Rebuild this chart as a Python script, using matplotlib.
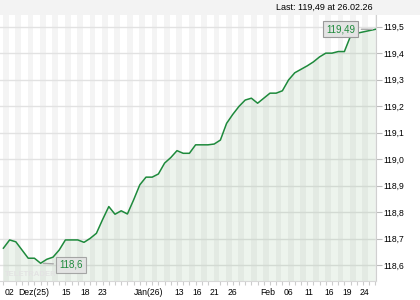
import numpy as np
import matplotlib
matplotlib.use("Agg")
from matplotlib import pyplot as plt
from matplotlib.patches import Rectangle

# closing values, one per trading day (01.12.25 .. 26.02.26)
values = [118.664, 118.695, 118.688, 118.657, 118.626, 118.626, 118.607, 118.622,
          118.630, 118.657, 118.695, 118.695, 118.695, 118.686, 118.701, 118.720,
          118.772, 118.821, 118.792, 118.805, 118.793, 118.846, 118.903, 118.932,
          118.932, 118.944, 118.985, 119.006, 119.032, 119.022, 119.022, 119.054,
          119.054, 119.054, 119.057, 119.072, 119.135, 119.169, 119.199, 119.223,
          119.230, 119.211, 119.230, 119.249, 119.249, 119.258, 119.299, 119.326,
          119.339, 119.352, 119.367, 119.386, 119.400, 119.400, 119.406, 119.406,
          119.465, 119.475, 119.480, 119.485, 119.490]

x_labels = ['02', 'Dez(25)', '15', '18', '23', 'Jän(26)', '13', '16', '21', '26',
            'Feb', '06', '11', '16', '19', '24']
x_label_pos = [1, 4.9, 10.1, 13.2, 15.9, 23.5, 28.4, 31.3, 34, 36.9,
               42.7, 45.9, 49.3, 52.5, 55.5, 58.2]

y_ticks = [118.6, 118.7, 118.8, 118.9, 119.0, 119.1, 119.2, 119.3, 119.4, 119.5]

last_label = '119,49'
low_label = '118,6'
header = 'Last: 119,49 at 26.02.26'

#%%
font = 'Liberation Sans'
tick_size = 6.2
green = '#1e8a3c'

x = np.arange(len(values))
v = np.array(values)

fig = plt.figure(figsize=(4.2, 3.0), dpi=100)
fig.patch.set_facecolor('white')
fig.add_artist(Rectangle((0, 0.95), 1, 0.05, transform=fig.transFigure,
                         facecolor='#f3f3f3', edgecolor='none', zorder=0))

ax = fig.add_axes([0.0, 19/300, 376/420, 266/300])
ax.set_facecolor('white')

# day stripes
for i in range(len(values)):
    if i % 2 == 0:
        ax.axvspan(i - 0.1, i + 0.85, color='#f4f4f4', lw=0, zorder=0)

for yt in y_ticks:
    ax.axhline(yt, color='#e2e2e2', lw=1.0, zorder=1)

ax.fill_between(x, v, 118.0, color='#3c8c3c', alpha=0.09, lw=0, zorder=2)
ax.plot(x, v, color=green, lw=1.1, zorder=3)

ax.set_xlim(-0.55, 60.1)
ax.set_ylim(118.540, 119.544)

ax.yaxis.tick_right()
ax.set_yticks(y_ticks)
ax.set_yticklabels([('%.1f' % t).replace('.', ',') for t in y_ticks],
                   fontsize=tick_size, fontfamily=font)
ax.set_xticks(x_label_pos)
ax.set_xticklabels(x_labels, fontsize=tick_size, fontfamily=font)
ax.set_xticks(x, minor=True)
ax.tick_params(axis='y', length=4, width=0.8, color='#bbbbbb', pad=1)
ax.tick_params(axis='x', which='major', length=0, pad=5)
ax.tick_params(axis='x', which='minor', length=3, width=0.8, color='#cccccc')

for side in ['top', 'left']:
    ax.spines[side].set_visible(False)
ax.spines['right'].set_color('#d0d0d0')
ax.spines['bottom'].set_color('#d8d8d8')

# callouts
ax.annotate(last_label, xy=(x[-1], v[-1]), xytext=(-25, 0), textcoords='offset points',
            ha='center', va='center', fontsize=7, color=green, fontfamily=font,
            bbox=dict(boxstyle='square,pad=0.3', fc='#e4e4e4', ec='#9a9a9a', lw=0.8),
            arrowprops=dict(arrowstyle='-', color='#aaaaaa', lw=1.0), zorder=5)
imin = int(np.argmin(v))
ax.annotate(low_label, xy=(x[imin], v[imin]), xytext=(22, -1), textcoords='offset points',
            ha='center', va='center', fontsize=7, color=green, fontfamily=font,
            bbox=dict(boxstyle='square,pad=0.3', fc='#e2e2e2', ec='#9a9a9a', lw=0.8, alpha=0.85),
            arrowprops=dict(arrowstyle='-', color='#aaaaaa', lw=1.0), zorder=5)

fig.text(5/420, 1 - 274/300, 'TELETRADER', fontsize=5.6, fontweight='bold',
         color='#e3e3e3', fontfamily=font, va='center', ha='left', zorder=4)
fig.text(373/420, 1 - 7.5/300, header, fontsize=6.5, fontfamily=font,
         ha='right', va='center')

fig.savefig('out.png', dpi=100)
